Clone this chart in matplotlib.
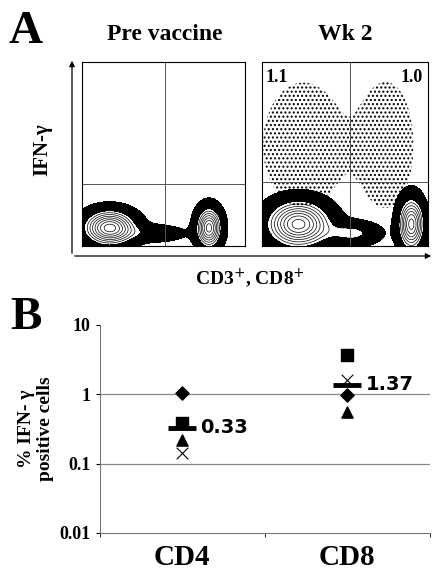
import numpy as np
import matplotlib
matplotlib.use("Agg")
import matplotlib.pyplot as plt

plt.rcParams['font.family'] = ['Liberation Serif', 'DejaVu Serif']
plt.rcParams['hatch.linewidth'] = 1.0

# Panel B data
categories = ["CD4", "CD8"]
diamond = [1.05, 0.97]
square = [0.38, 3.7]
triangle = [0.22, 0.55]
cross = [0.14, 1.6]
means = [0.33, 1.37]
mean_labels = ["0.33", "1.37"]

# Panel A cluster descriptions (center x, center y, sx, sy, weight) in axes units
pre_clusters = [(0.17, 0.10, 0.10, 0.06, 1.0), (0.78, 0.10, 0.05, 0.07, 0.9),
                (0.45, 0.07, 0.12, 0.03, 0.2)]
wk2_clusters = [(0.22, 0.12, 0.12, 0.08, 1.0), (0.90, 0.12, 0.05, 0.09, 0.9),
                (0.55, 0.07, 0.10, 0.04, 0.35)]
wk2_spread = [(0.25, 0.55, 0.18, 0.25, 0.03), (0.75, 0.55, 0.12, 0.25, 0.03)]

fig = plt.figure(figsize=(4.38, 5.70), dpi=100)

def density(clusters, X, Y):
    Z = np.zeros_like(X)
    for cx, cy, sx, sy, w in clusters:
        Z += w * np.exp(-((X - cx) ** 2 / (2 * sx ** 2) + (Y - cy) ** 2 / (2 * sy ** 2)))
    return Z

g = np.linspace(0, 1, 300)
X, Y = np.meshgrid(g, g)

def flow(ax, clusters, spread, vx, hy):
    Z = density(clusters, X, Y)
    if spread:
        S = density(spread, X, Y)
        ax.contourf(X, Y, S, levels=[0.012, 1], colors='none', hatches=['....'])
    ax.contourf(X, Y, Z, levels=[0.06, 0.3], colors=['black'])
    ax.contour(X, Y, Z, levels=np.linspace(0.3, 0.95, 8), colors='black', linewidths=0.5)
    ax.axvline(vx, color='#555', lw=0.7)
    ax.axhline(hy, color='#555', lw=0.7)
    ax.set_xlim(0, 1); ax.set_ylim(0, 1)
    ax.set_xticks([]); ax.set_yticks([])
    for s in ax.spines.values():
        s.set_linewidth(0.8)

ax1 = fig.add_axes([0.187, 0.568, 0.372, 0.323])
flow(ax1, pre_clusters, None, 0.51, 0.34)
ax2 = fig.add_axes([0.598, 0.568, 0.379, 0.323])
flow(ax2, wk2_clusters, wk2_spread, 0.53, 0.35)
ax2.text(0.02, 0.96, "1.1", transform=ax2.transAxes, fontsize=13, fontweight='bold', va='top')
ax2.text(0.97, 0.96, "1.0", transform=ax2.transAxes, fontsize=13, fontweight='bold', va='top', ha='right')

fig.text(165/438, 1-35/570, "Pre vaccine", ha='center', va='center', fontsize=17, fontweight='bold')
fig.text(345/438, 1-35/570, "Wk 2", ha='center', va='center', fontsize=17, fontweight='bold')
fig.text(26/438, 1-32/570, "A", ha='center', va='center', fontsize=34, fontweight='bold')
fig.text(26/438, 1-318/570, "B", ha='center', va='center', fontsize=34, fontweight='bold')

fig.add_artist(matplotlib.patches.FancyArrowPatch((72/438, 1-256/570), (72/438, 1-58/570),
    transform=fig.transFigure, arrowstyle='-|>', mutation_scale=8, lw=0.9, color='black'))
fig.add_artist(matplotlib.patches.FancyArrowPatch((72/438, 1-256/570), (434/438, 1-256/570),
    transform=fig.transFigure, arrowstyle='-|>', mutation_scale=8, lw=0.9, color='black'))
fig.text(42/438, 1-150/570, "IFN-γ", rotation=90, ha='center', va='center', fontsize=15, fontweight='bold')
fig.text(250/438, 1-278/570, "CD3$^{+}$, CD8$^{+}$", ha='center', va='center', fontsize=14, fontweight='bold')

# Panel B
ax = fig.add_axes([0.228, 0.065, 0.753, 0.365])
x = np.array([0.5, 1.5])
ax.set_yscale('log')
ax.set_ylim(0.01, 10)
ax.set_xlim(0, 2)
for yv in [0.1, 1]:
    ax.axhline(yv, color='#888', lw=0.9, zorder=0)
ax.scatter(x, diamond, marker='D', s=45, color='black', zorder=3)
ax.scatter(x, square, marker='s', s=65, color='black', zorder=3)
ax.scatter(x, triangle, marker='^', s=65, color='black', zorder=3)
ax.scatter(x, cross, marker='x', s=70, color='black', linewidths=0.8, zorder=3)
ax.scatter(x, means, marker='_', s=400, color='black', linewidths=3.5, zorder=4)
for xi, m, lab in zip(x, means, mean_labels):
    ax.text(xi + 0.11, m, lab, va='center', ha='left', fontsize=14, fontweight='bold', family='DejaVu Sans')
ax.set_yticks([0.01, 0.1, 1, 10])
ax.set_yticklabels(["0.01", "0.1", "1", "10"], fontsize=13, fontweight='bold')
ax.yaxis.set_minor_locator(matplotlib.ticker.NullLocator())
ax.set_xticks(x)
ax.set_xticklabels(categories, fontsize=21, fontweight='bold')
ax.set_xticks([0, 1, 2], minor=True)
ax.tick_params(axis='x', which='major', length=0, pad=8)
ax.tick_params(axis='x', which='minor', length=3)
ax.tick_params(axis='y', length=3)
ax.spines['top'].set_visible(False)
ax.spines['right'].set_visible(False)
ax.spines['left'].set_color('#777')
ax.spines['bottom'].set_color('#777')
ax.set_ylabel("% IFN- γ\npositive cells", fontsize=14, fontweight='bold', labelpad=4)

fig.savefig("out.png", dpi=100)
